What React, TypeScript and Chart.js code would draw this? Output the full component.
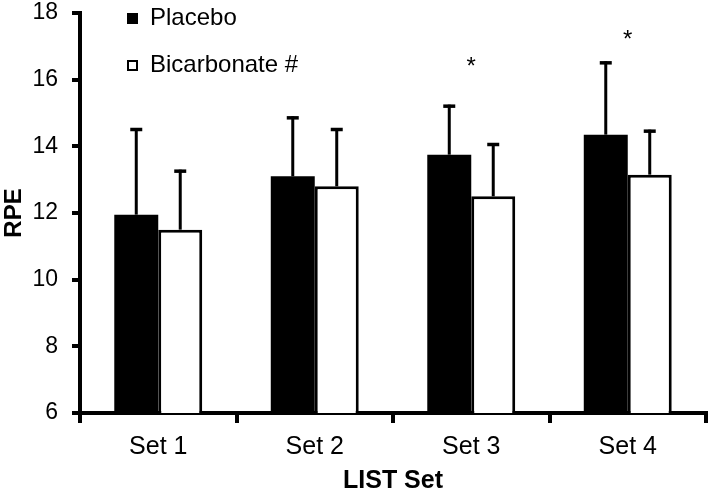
import React, { useEffect, useRef } from "react";
import { Chart, registerables } from "chart.js";

Chart.register(...registerables);

const categories = ["Set 1", "Set 2", "Set 3", "Set 4"];
const placeboMeans = [11.95, 13.1, 13.75, 14.35];
const placeboSD = [2.6, 1.8, 1.5, 2.2];
const bicarbMeans = [11.5, 12.8, 12.5, 13.15];
const bicarbSD = [1.8, 1.75, 1.6, 1.35];
const asteriskY: (number | null)[] = [null, null, 16.5, 17.3];
const yTicks = [6, 8, 10, 12, 14, 16, 18];
const seriesNames = ["Placebo", "Bicarbonate #"];

const FONT = "'Liberation Sans', Arial, Helvetica, sans-serif";

export default function App() {
  const ref = useRef<HTMLCanvasElement | null>(null);

  useEffect(() => {
    const canvas = ref.current;
    if (!canvas) return;
    const sds = [placeboSD, bicarbSD];

    const errorBars = {
      id: "errorBars",
      afterDatasetsDraw(chart: any) {
        const ctx = chart.ctx;
        const y = chart.scales.y;
        ctx.save();
        ctx.strokeStyle = "#000";
        ctx.lineWidth = 3;
        chart.data.datasets.forEach((ds: any, i: number) => {
          const meta = chart.getDatasetMeta(i);
          meta.data.forEach((el: any, j: number) => {
            const v = ds.data[j] as number;
            const top = y.getPixelForValue(v + sds[i][j]);
            const base = y.getPixelForValue(v);
            ctx.beginPath();
            ctx.moveTo(el.x, base);
            ctx.lineTo(el.x, top);
            ctx.stroke();
            ctx.beginPath();
            ctx.lineWidth = 3.5;
            ctx.moveTo(el.x - 6, top + 1.5);
            ctx.lineTo(el.x + 6, top + 1.5);
            ctx.stroke();
            ctx.lineWidth = 3;
          });
        });
        // asterisks
        ctx.fillStyle = "#000";
        ctx.font = `24px ${FONT}`;
        ctx.textAlign = "center";
        ctx.textBaseline = "middle";
        const xs = chart.scales.x;
        asteriskY.forEach((a, j) => {
          if (a == null) return;
          const px = xs.getPixelForValue(j);
          const py = y.getPixelForValue(a);
          ctx.fillText("*", px, py + 4);
        });
        ctx.restore();
      },
    };

    const customLegend = {
      id: "customLegend",
      afterDraw(chart: any) {
        const ctx = chart.ctx;
        ctx.save();
        ctx.font = `24px ${FONT}`;
        ctx.textAlign = "left";
        ctx.textBaseline = "alphabetic";
        ctx.fillStyle = "#000";
        // Placebo
        ctx.fillRect(127, 13, 11, 11);
        ctx.fillText(seriesNames[0], 150, 25);
        // Bicarbonate
        ctx.fillStyle = "#fff";
        ctx.fillRect(127, 60, 11, 11);
        ctx.strokeStyle = "#000";
        ctx.lineWidth = 2;
        ctx.strokeRect(128, 61, 9, 9);
        ctx.fillStyle = "#000";
        ctx.fillText(seriesNames[1], 150, 72);
        ctx.restore();
      },
    };

    const chart = new Chart(canvas, {
      type: "bar",
      data: {
        labels: categories,
        datasets: [
          {
            label: seriesNames[0],
            data: placeboMeans,
            backgroundColor: "#000",
            borderColor: "#000",
            borderWidth: 0,
            categoryPercentage: 0.562,
            barPercentage: 1,
          },
          {
            label: seriesNames[1],
            data: bicarbMeans,
            backgroundColor: "#fff",
            borderColor: "#000",
            borderWidth: 3,
            borderSkipped: "bottom",
            categoryPercentage: 0.562,
            barPercentage: 1,
          },
        ],
      },
      options: {
        responsive: false,
        animation: false,
        layout: { padding: { top: 13, right: 3, left: 0, bottom: 0 } },
        plugins: {
          legend: { display: false },
          tooltip: { enabled: false },
        },
        scales: {
          x: {
            offset: true,
            grid: {
              offset: true,
              drawOnChartArea: false,
              drawTicks: true,
              tickLength: 10,
              tickWidth: 4,
              tickColor: "#000",
              color: "#000",
              lineWidth: 4,
            },
            border: { display: true, color: "#000", width: 4 },
            ticks: {
              color: "#000",
              font: { family: FONT, size: 25 },
              padding: 9,
              maxRotation: 0,
            },
            title: {
              display: true,
              text: "LIST Set",
              color: "#000",
              font: { family: FONT, size: 25, weight: "bold" },
              padding: { top: 0, bottom: -7 },
            },
            afterFit(scale: any) {
              scale.height = 76;
              scale.paddingLeft = 0;
              scale.paddingRight = 0;
            },
          },
          y: {
            min: 6,
            max: 18,
            afterBuildTicks(scale: any) {
              scale.ticks = yTicks.map((v) => ({ value: v }));
            },
            grid: {
              drawOnChartArea: false,
              drawTicks: true,
              tickLength: 8,
              tickWidth: 4,
              tickColor: "#000",
              color: "#000",
              lineWidth: 4,
            },
            border: { display: true, color: "#000", width: 4 },
            ticks: {
              color: "#000",
              font: { family: FONT, size: 23 },
              padding: 14,
            },
            title: {
              display: true,
              text: "RPE",
              color: "#000",
              font: { family: FONT, size: 24, weight: "bold" },
              padding: { top: 0, bottom: 0 },
            },
            afterFit(scale: any) {
              scale.width = 80;
              scale.paddingTop = 0;
              scale.paddingBottom = 0;
            },
          },
        },
      },
      plugins: [errorBars, customLegend],
    });

    return () => chart.destroy();
  }, []);

  return (
    <div style={{ position: "absolute", left: 0, top: 0, width: 709, height: 489, background: "#fff" }}>
      <canvas ref={ref} width={709} height={489} style={{ display: "block" }} />
    </div>
  );
}
